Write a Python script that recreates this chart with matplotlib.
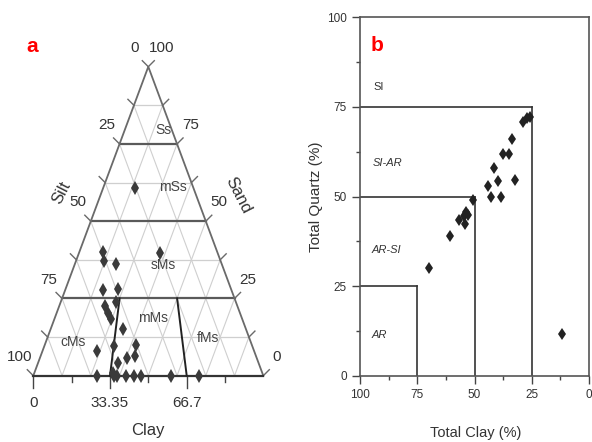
import numpy as np
import matplotlib
matplotlib.use("Agg")
import matplotlib.pyplot as plt

# ---------------------------------------------------------------------------
# Datos
# ---------------------------------------------------------------------------
# Panel a: diagrama ternario (arena %, arcilla %; limo = resto)
arena_a = [40.1, 37.1, 36.1, 39.6, 27.8, 28.0, 23.9, 22.7, 20.3, 18.3,
           15.0, 9.6, 9.9, 8.0, 6.4, 5.8, 4.1, 0.8, 60.6,
           0, 0, 0, 0, 0, 0, 0, 0]
arcilla_a = [10.1, 12.2, 17.7, 35.3, 16.3, 22.8, 24.0, 20.0, 22.3, 24.7,
             31.5, 30.4, 39.9, 23.9, 41.2, 38.0, 34.6, 34.4, 13.9,
             27.9, 35.2, 36.2, 40.3, 43.9, 46.9, 59.9, 72.2]

etiq_silt = [0, 25, 50, 75, 100]
etiq_sand = [100, 75, 50, 25, 0]
etiq_clay = [0, 33.35, 66.7]
ticks_clay = [0, 16.675, 33.35, 50, 66.7, 83.35]
razones_clay = [0.3335, 0.667]          # limites cMs / mMs / fMs

regiones = ["Ss", "mSs", "sMs", "mMs", "cMs", "fMs"]
reg_arena = [79.5, 61.2, 35.8, 18.7, 11.0, 12.1]
reg_arcilla = [16.8, 30.3, 38.6, 42.8, 11.9, 70.0]

# Panel b: arcilla total vs cuarzo total
arcilla_b = [28.7, 26.9, 25.8, 33.5, 37.7, 34.8, 41.5, 44.2, 39.6, 32.3,
             42.8, 38.6, 50.8, 53.5, 52.7, 54.5, 54.1, 56.6, 60.7, 69.7, 11.9]
cuarzo_b = [70.8, 71.8, 72.1, 65.9, 61.8, 61.8, 57.9, 52.9, 54.3, 54.6,
            49.9, 49.9, 49.0, 45.8, 44.8, 44.6, 42.3, 43.5, 39.0, 30.0, 11.7]
umbrales_b = [25, 50, 75]
clases_b = ["SI", "SI-AR", "AR-SI", "AR"]
clases_x = [91.8, 87.9, 88.3, 91.8]
clases_y = [80.6, 59.2, 35.1, 11.4]
clases_it = ["normal", "italic", "italic", "italic"]

FUENTE = ["Liberation Sans", "DejaVu Sans"]
ANGOSTA = ["Liberation Sans Narrow", "Liberation Sans", "DejaVu Sans"]
plt.rcParams["font.family"] = FUENTE

# geometria del triangulo en pixeles de la figura (592 x 442)
W, H = 592, 442
T_IZQ, T_DER, T_SUP, T_BASE = 33.3, 263.3, 66.7, 375.7
ANCHO_AX_A = 296
sx = T_DER - T_IZQ
sy = T_BASE - T_SUP


def tern(arena, arcilla):
    """(arena %, arcilla %) -> coordenadas cartesianas normalizadas."""
    a = np.asarray(arena, float) / 100
    c = np.asarray(arcilla, float) / 100
    return c + a / 2, a


fig = plt.figure(figsize=(W / 100, H / 100), dpi=100)

# ---------------------------------------------------------------------------
# (a) ternario
# ---------------------------------------------------------------------------
ax = fig.add_axes([0, 0, ANCHO_AX_A / W, 1])
ax.set_xlim(-T_IZQ / sx, (ANCHO_AX_A - T_IZQ) / sx)
ax.set_ylim((T_BASE - H) / sy, T_BASE / sy)
ax.axis("off")

gris_claro = "#cfcfcf"
gris = "#6a6a6a"
for k in range(1, 8):
    f = k / 8
    # paralelas a los lados
    ax.plot([f, f + (1 - f) / 2], [0, 1 - f], color=gris_claro, lw=0.8, zorder=1)
    ax.plot([1 - f, (1 - f) / 2], [0, 1 - f], color=gris_claro, lw=0.8, zorder=1)
    # horizontales
    if k % 2:
        ax.plot([f / 2, 1 - f / 2], [f, f], color=gris_claro, lw=0.9, zorder=1)
    else:
        ax.plot([f / 2, 1 - f / 2], [f, f], color="#5a5a5a", lw=1.6, zorder=2)

# contorno
ax.plot([0, 0.5, 1], [0, 1, 0], color=gris, lw=1.3, zorder=3)
ax.plot([0, 1], [0, 0], color="#333333", lw=1.6, zorder=3)

# limites de clases (relacion arcilla/lodo constante)
for r in razones_clay:
    arena_l = np.array([25, 0])
    x, y = tern(arena_l, (100 - arena_l) * r)
    ax.plot(x, y, color="#222222", lw=1.4, zorder=3)

# marcas en los lados
dtx, dty = 6 / sx, 6 / sy
for k in range(0, 9):
    f = k / 8
    ax.plot([f / 2, f / 2 - dtx], [f, f + dty], color=gris, lw=1.0)
    ax.plot([1 - f / 2, 1 - f / 2 + dtx], [f, f + dty], color=gris, lw=1.0)
for c in ticks_clay:
    largo = 12 if c in etiq_clay else 6
    ax.plot([c / 100, c / 100], [0, -largo / sy], color="#444444", lw=1.0)

# etiquetas de ejes
for v in etiq_silt:
    y = 1 - v / 100
    ax.annotate(f"{v}", (y / 2, y), xytext=(-9.5, 13.5),
                textcoords="offset points", ha="center", va="center",
                fontsize=11, family=ANGOSTA, color="#333333")
for v in etiq_sand:
    y = v / 100
    ax.annotate(f"{v}", (1 - y / 2, y), xytext=(9.5, 13.5),
                textcoords="offset points", ha="center", va="center",
                fontsize=11, family=ANGOSTA, color="#333333")
for v in etiq_clay:
    ax.annotate(f"{v:g}", (v / 100, 0), xytext=(0, -20),
                textcoords="offset points", ha="center", va="center",
                fontsize=11, family=ANGOSTA, color="#333333")

ax.text(0.4987, -0.176, "Clay", ha="center", va="center", fontsize=12,
        color="#333333")
ax.text(0.1235, 0.591, "Silt", ha="center", va="center", fontsize=12,
        rotation=63, color="#333333")
ax.text(0.89, 0.584, "Sand", ha="center", va="center", fontsize=12,
        rotation=-63, color="#333333")

for nombre, a, c in zip(regiones, reg_arena, reg_arcilla):
    x, y = tern(a, c)
    ax.text(x, y, nombre, ha="center", va="center", fontsize=10,
            family=ANGOSTA, color="#444444", zorder=4)

x, y = tern(arena_a, arcilla_a)
ax.plot(x, y, "d", ls="none", color="#3a3a3a", ms=7, mew=0, zorder=5)

ax.text(-0.005, 1.065, "a", color="red", fontsize=15, fontweight="bold",
        ha="center", va="center")

# ---------------------------------------------------------------------------
# (b) arcilla total vs cuarzo total
# ---------------------------------------------------------------------------
bx = fig.add_axes([360 / W, (H - 376) / H, 229 / W, 359 / H])
bx.set_xlim(100, 0)
bx.set_ylim(0, 100)
for t in umbrales_b:
    bx.plot([100, 100 - t], [t, t], color="#333333", lw=1.2)
    bx.plot([100 - t, 100 - t], [0, t], color="#333333", lw=1.2)
bx.plot(arcilla_b, cuarzo_b, "d", ls="none", color="#222222", ms=6, mew=0,
        zorder=5)

for nombre, xx, yy, st in zip(clases_b, clases_x, clases_y, clases_it):
    bx.text(xx, yy, nombre, ha="center", va="center", fontsize=8,
            style=st, family=ANGOSTA, color="#333333")
bx.text(92.6, 92.2, "b", color="red", fontsize=15, fontweight="bold",
        ha="center", va="center")

bx.set_xticks([100, 75, 50, 25, 0])
bx.set_yticks([0, 25, 50, 75, 100])
bx.set_xticks([87.5, 62.5, 37.5, 12.5], minor=True)
bx.set_yticks([12.5, 37.5, 62.5, 87.5], minor=True)
bx.tick_params(which="major", direction="out", length=6, width=1,
               color="#444444", labelsize=8.5, labelcolor="#333333")
bx.tick_params(which="minor", direction="out", length=3, width=1,
               color="#444444")
for lab in bx.get_xticklabels() + bx.get_yticklabels():
    lab.set_family(ANGOSTA)
for s in bx.spines.values():
    s.set_color("#555555")
    s.set_linewidth(1.2)

bx.set_ylabel("Total Quartz (%)", fontsize=11, color="#333333")
bx.yaxis.set_label_coords(-37 / 229, 0.5)
bx.set_xlabel("Total Clay (%)", fontsize=10.5, family=ANGOSTA,
              color="#333333")
bx.xaxis.set_label_coords(0.507, -50 / 359)

fig.savefig("out.png", dpi=100)
